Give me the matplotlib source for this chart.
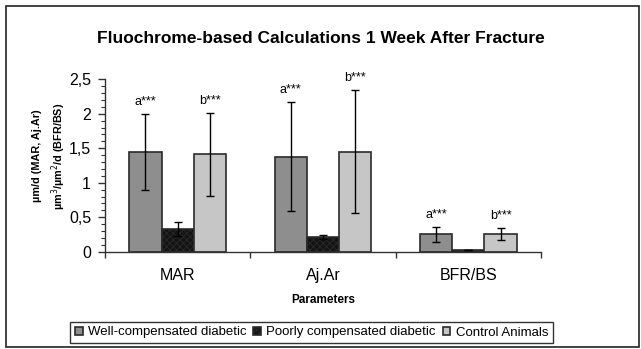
import matplotlib
matplotlib.use("Agg")
import matplotlib.pyplot as plt
import numpy as np
from matplotlib.patches import Rectangle
from matplotlib.ticker import MultipleLocator, FuncFormatter

plt.rcParams['font.family'] = ['Liberation Sans', 'DejaVu Sans']
plt.rcParams['hatch.color'] = '#3c3c3c'
plt.rcParams['hatch.linewidth'] = 0.6

categories = ['MAR', 'Aj.Ar', 'BFR/BS']
series = ['Well-compensated diabetic', 'Poorly compensated diabetic', 'Control Animals']
well = [1.44, 1.38, 0.25]
well_err = [0.55, 0.79, 0.105]
poor = [0.33, 0.21, 0.02]
poor_err = [0.10, 0.03, 0.0]
control = [1.41, 1.45, 0.26]
control_err = [0.60, 0.89, 0.085]
well_marks = ['a***', 'a***', 'a***']
control_marks = ['b***', 'b***', 'b***']

W, H = 641, 349
fig = plt.figure(figsize=(W / 100, H / 100), dpi=100)
ax = fig.add_axes([105 / W, 1 - 251.7 / H, 436 / W, 172.4 / H])

x = np.arange(len(categories))
bw = 0.222
bars = [
    (well, well_err, '#8e8e8e', None),
    (poor, poor_err, '#141414', 'xxxxx'),
    (control, control_err, '#c6c6c6', None),
]
for i, (vals, errs, col, hatch) in enumerate(bars):
    pos = x + (i - 1) * bw
    ax.bar(pos, vals, bw, color=col, edgecolor='#2a2a2a', linewidth=1.2,
           hatch=hatch, label=series[i], zorder=2)
    ax.errorbar(pos, vals, yerr=errs, fmt='none', ecolor='black',
                elinewidth=1, capsize=3, capthick=1, zorder=3)

for i in range(len(categories)):
    ax.text(x[i] - bw, well[i] + well_err[i] + 0.09, well_marks[i],
            ha='center', va='bottom', fontsize=9)
    ax.text(x[i] + bw, control[i] + control_err[i] + 0.09, control_marks[i],
            ha='center', va='bottom', fontsize=9)

ax.set_xlim(-0.5, 2.5)
ax.set_ylim(0, 2.5)
ax.yaxis.set_major_locator(MultipleLocator(0.5))
ax.yaxis.set_minor_locator(MultipleLocator(0.1))
ax.yaxis.set_major_formatter(FuncFormatter(lambda v, p: ('%g' % v).replace('.', ',')))
ax.set_xticks([-0.5, 0.5, 1.5, 2.5])
ax.set_xticklabels([])
ax.set_xticks(x, minor=True)
ax.set_xticklabels(categories, minor=True)
ax.tick_params(axis='x', which='major', length=4, width=1, color='#333333')
ax.tick_params(axis='x', which='minor', length=0, pad=12, labelsize=11.5)
ax.tick_params(axis='y', which='major', length=5, width=1, color='#333333', labelsize=11.5, pad=5)
ax.tick_params(axis='y', which='minor', length=3, width=0.8, color='#333333')

for s in ['top', 'right']:
    ax.spines[s].set_visible(False)
for s in ['left', 'bottom']:
    ax.spines[s].set_color('#333333')
    ax.spines[s].set_linewidth(1)

ax.set_xlabel('Parameters', fontsize=8.5, fontweight='bold', labelpad=8)
ax.set_ylabel('\u00b5m/d (MAR, Aj.Ar)\n\u00b5m$^3$/\u00b5m$^2$/d (BFR/BS)',
              fontsize=7.8, fontweight='bold', linespacing=1.5)
ax.yaxis.set_label_coords(-0.086, 0.555)

fig.text(0.5, 1 - 38.5 / H, 'Fluochrome-based Calculations 1 Week After Fracture',
         ha='center', va='center', fontsize=12.5, fontweight='bold')

leg = fig.legend(loc='center', bbox_to_anchor=(311.5 / W, 1 - 332.5 / H), ncol=3,
                 fontsize=9.5, frameon=True, fancybox=False, borderpad=0.35,
                 handlelength=0.6, handleheight=0.6, handletextpad=0.4,
                 columnspacing=0.5, borderaxespad=0)
leg.get_frame().set_edgecolor('black')
leg.get_frame().set_linewidth(1)

fig.patches.append(Rectangle((6 / W, 2 / H), 633 / W, 341 / H, transform=fig.transFigure,
                             fill=False, edgecolor='#222222', linewidth=1.2))

fig.savefig('out.png', dpi=100)
